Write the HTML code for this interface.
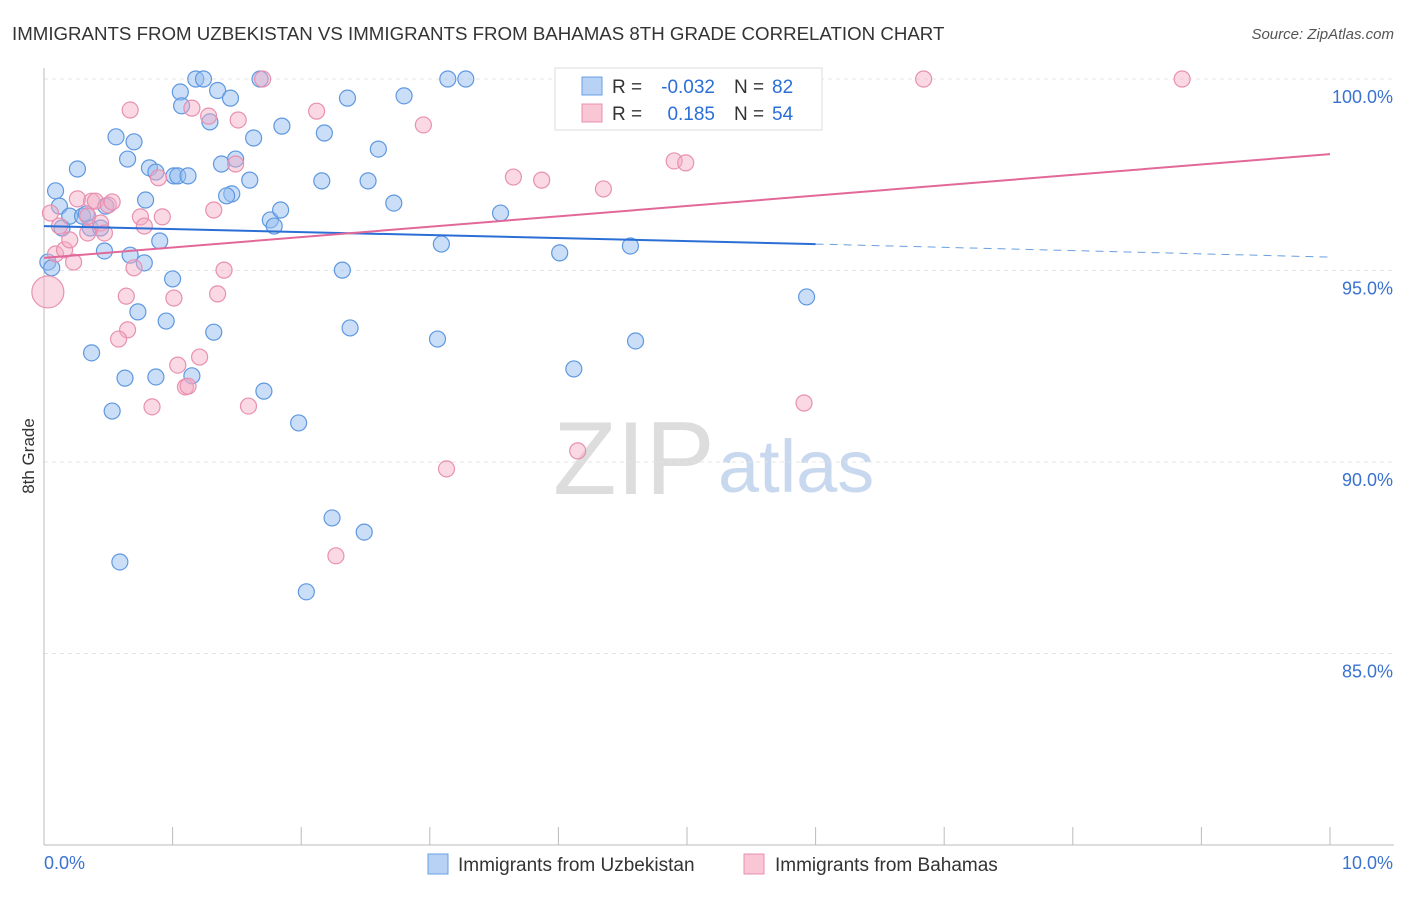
<!DOCTYPE html>
<html><head><meta charset="utf-8">
<style>
body{margin:0;background:#fff;font-family:"Liberation Sans",sans-serif;}
svg text{font-family:"Liberation Sans",sans-serif;}
</style></head>
<body>
<svg id="chart" width="1406" height="892">
<text x="12" y="40" font-size="18.7" fill="#333">IMMIGRANTS FROM UZBEKISTAN VS IMMIGRANTS FROM BAHAMAS 8TH GRADE CORRELATION CHART</text>
<text x="1394" y="39" font-size="15" fill="#555" font-style="italic" text-anchor="end">Source: ZipAtlas.com</text>
<text x="34" y="456" font-size="17" fill="#333" text-anchor="middle" transform="rotate(-90 34 456)">8th Grade</text>
<text x="553" y="494" font-size="104" fill="#ddd" font-family="Liberation Serif">ZIP</text>
<text x="718" y="492" font-size="74" fill="#c8d8ee">atlas</text>
<g id="grid"></g><g id="axes"></g><g id="pts"></g><g id="lines"></g>
<g>
<rect x="555" y="68" width="267" height="62" fill="#fff" stroke="#ddd"/>
<rect x="582" y="77" width="20" height="18" fill="#b8d2f5" stroke="#6a9fe0"/>
<text x="612" y="93" font-size="19" fill="#333">R =</text>
<text x="715" y="93" font-size="19" fill="#2b6fd6" text-anchor="end">-0.032</text>
<text x="734" y="93" font-size="19" fill="#333">N =</text>
<text x="772" y="93" font-size="19" fill="#2b6fd6">82</text>
<rect x="582" y="104" width="20" height="18" fill="#f9c6d6" stroke="#e890b0"/>
<text x="612" y="120" font-size="19" fill="#333">R =</text>
<text x="715" y="120" font-size="19" fill="#2b6fd6" text-anchor="end">0.185</text>
<text x="734" y="120" font-size="19" fill="#333">N =</text>
<text x="772" y="120" font-size="19" fill="#2b6fd6">54</text>
</g>
<g>
<rect x="428" y="854" width="20" height="20" fill="#b8d2f5" stroke="#6a9fe0"/>
<text x="458" y="871" font-size="19" fill="#333">Immigrants from Uzbekistan</text>
<rect x="744" y="854" width="20" height="20" fill="#f9c6d6" stroke="#e890b0"/>
<text x="775" y="871" font-size="19" fill="#333">Immigrants from Bahamas</text>
</g>
</svg>
<script>
const yTicks=[100,95,90,85];
const yTickLabels=["100.0%","95.0%","90.0%","85.0%"];
const xTicks=[0,1,2,3,4,5,6,7,8,9,10];
const blueX=[0.09,0.12,0.03,0.06,0.26,0.14,0.2,0.3,0.33,0.36,0.44,0.48,0.47,0.37,0.56,0.65,0.7,0.79,0.82,0.87,0.9,0.78,0.67,0.73,0.63,0.53,0.59,0.87,0.95,1.0,1.01,1.04,1.12,1.06,1.07,1.18,1.24,1.29,1.35,1.45,1.38,1.49,1.46,1.42,1.6,1.63,1.68,1.85,1.76,1.79,1.84,1.32,1.15,1.71,1.98,2.18,2.16,2.36,2.32,2.38,2.52,2.6,2.72,2.8,2.24,2.49,2.04,3.14,3.28,3.09,3.06,3.55,4.01,4.12,4.56,4.6,5.93,4.06];
const blueY=[97.08,96.68,95.22,95.07,97.65,96.11,96.42,96.42,96.48,96.11,96.11,96.68,95.51,92.85,98.49,97.91,98.36,96.84,97.68,97.57,95.77,95.2,95.4,93.92,92.19,91.33,87.39,92.22,93.68,94.78,97.47,97.47,97.47,99.66,99.3,100,100,98.88,99.7,99.5,97.78,97.91,97.0,96.95,97.36,98.46,100,98.77,96.32,96.16,96.58,93.39,92.25,91.85,91.02,98.59,97.34,99.5,95.01,93.5,97.34,98.17,96.76,99.56,88.54,88.17,86.61,100,100,95.69,93.21,96.5,95.46,92.43,95.64,93.16,94.31,100];
const pinkX=[0.03,0.05,0.09,0.16,0.23,0.26,0.34,0.37,0.4,0.44,0.47,0.5,0.53,0.34,0.67,0.75,0.78,0.89,0.92,0.7,0.64,0.65,0.58,0.84,1.01,1.04,1.1,1.12,1.21,1.15,1.28,1.32,1.35,1.4,1.51,1.49,1.59,1.7,2.12,2.27,2.95,3.13,3.65,3.87,4.15,4.35,4.9,4.99,5.91,6.84,8.85,0.2,0.12];
const pinkY=[94.44,96.5,95.43,95.54,95.22,96.87,95.98,96.81,96.81,96.24,95.98,96.71,96.79,96.42,99.19,96.4,96.16,97.42,96.4,95.07,94.33,93.45,93.21,91.44,94.28,92.53,91.96,91.98,92.74,99.24,99.03,96.58,94.39,95.01,98.93,97.78,91.46,100,99.16,87.55,98.8,89.82,97.44,97.36,90.29,97.13,97.86,97.81,91.54,100,100,95.8,96.16];
const blueTrendX=[0,6,10], blueTrendY=[96.16,95.69,95.35];
const pinkTrendX=[0,10], pinkTrendY=[95.33,98.04];
const NS="http://www.w3.org/2000/svg";
const X=v=>44+v*128.6, Y=v=>79+(100-v)*38.3;
function mk(tag,attrs,parent){const e=document.createElementNS(NS,tag);for(const k in attrs)e.setAttribute(k,attrs[k]);document.getElementById(parent).appendChild(e);return e;}
yTicks.forEach((t,i)=>{
 const l=mk('line',{x1:44,x2:1394,y1:Y(t),y2:Y(t),stroke:'#e4e4e4','stroke-dasharray':'4,4'},'grid');
 
 
 const tx=mk('text',{x:1393,y:Y(t)+24,'font-size':18,fill:'#3a72d0','text-anchor':'end'},'grid');
 tx.textContent=yTickLabels[i];
 
 
});
const ya=mk('line',{x1:44,x2:44,y1:68,y2:845,stroke:'#bbb'},'axes');


const xa=mk('line',{x1:44,x2:1394,y1:845,y2:845,stroke:'#bbb'},'axes');


xTicks.forEach(t=>{
 const l=mk('line',{x1:X(t),x2:X(t),y1:827,y2:845,stroke:'#bbb'},'axes');
 
 
});
[["0.0%",44,'start'],["10.0%",1393,'end']].forEach(a=>{
 const t=mk('text',{x:a[1],y:869,'font-size':18,fill:'#3a72d0','text-anchor':a[2]},'axes');
 t.textContent=a[0];
 
 
});
blueX.forEach((x,i)=>{
 const c=mk('circle',{cx:X(x),cy:Y(blueY[i]),r:8,fill:'rgba(150,190,240,0.5)',stroke:'#5f98e0','stroke-width':1.2},'pts');
 
 
});
pinkX.forEach((x,i)=>{
 const c=mk('circle',{cx:X(x),cy:Y(pinkY[i]),r:i===0?16:8,fill:'rgba(245,170,195,0.45)',stroke:'#e890b0','stroke-width':1.2},'pts');
 
 
});
const b1=mk('line',{x1:X(blueTrendX[0]),y1:Y(blueTrendY[0]),x2:X(blueTrendX[1]),y2:Y(blueTrendY[1]),stroke:'#2b6fd6','stroke-width':2},'lines');


const b2=mk('line',{x1:X(blueTrendX[1]),y1:Y(blueTrendY[1]),x2:X(blueTrendX[2]),y2:Y(blueTrendY[2]),stroke:'#6a9fe0','stroke-width':1,'stroke-dasharray':'8,6'},'lines');


const p1=mk('line',{x1:X(pinkTrendX[0]),y1:Y(pinkTrendY[0]),x2:X(pinkTrendX[1]),y2:Y(pinkTrendY[1]),stroke:'#e2689a','stroke-width':2},'lines');


</script>
</body></html>
